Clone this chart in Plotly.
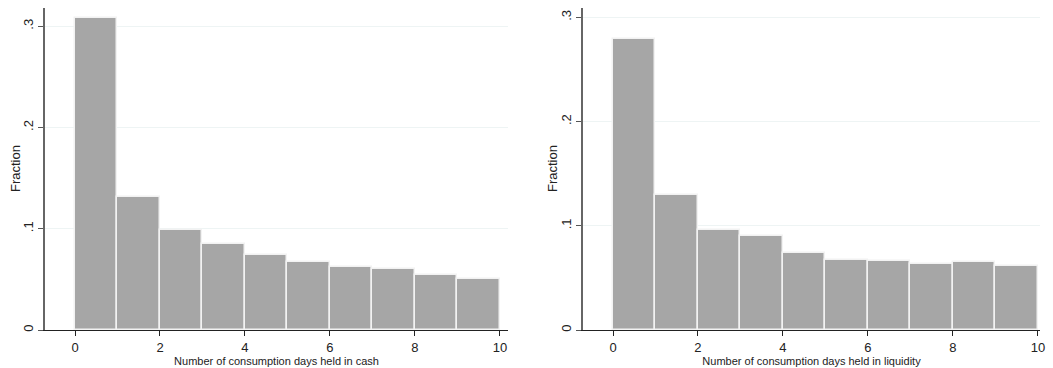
import plotly.graph_objects as go

bins_left = [0, 1, 2, 3, 4, 5, 6, 7, 8, 9]
frac_cash = [0.308, 0.1316, 0.0987, 0.0849, 0.0737, 0.0668, 0.0625, 0.0599, 0.0546, 0.0503]
bins_right = [0, 1, 2, 3, 4, 5, 6, 7, 8, 9]
frac_liquidity = [0.2797, 0.1294, 0.0959, 0.0901, 0.0741, 0.0671, 0.0665, 0.0630, 0.0649, 0.0614]
x_ticks = [0, 2, 4, 6, 8, 10]
y_ticks = [0, 0.1, 0.2, 0.3]
y_tick_text = ["0", ".1", ".2", ".3"]
xtitle_left = "Number of consumption days held in cash"
xtitle_right = "Number of consumption days held in liquidity"
ytitle = "Fraction"

W, H = 1053, 368
FONT = "Liberation Sans, Arial, sans-serif"
BAR = "#a6a6a6"

fig = go.Figure()
fig.add_trace(go.Bar(x=[b + 0.5 for b in bins_left], y=frac_cash, width=1,
                     marker=dict(color=BAR, line=dict(color="#f2f2f2", width=1.5)),
                     xaxis="x", yaxis="y", showlegend=False, hoverinfo="skip"))
fig.add_trace(go.Bar(x=[b + 0.5 for b in bins_right], y=frac_liquidity, width=1,
                     marker=dict(color=BAR, line=dict(color="#f2f2f2", width=1.5)),
                     xaxis="x2", yaxis="y2", showlegend=False, hoverinfo="skip"))

def xax(domain, rng, title):
    return dict(domain=domain, range=rng, tickvals=x_ticks, ticks="outside", ticklen=5,
                tickcolor="#222", showline=True, linecolor="#222", linewidth=1.3,
                showgrid=False, zeroline=False,
                tickfont=dict(family=FONT, size=13, color="#222"),
                title=dict(text=title, font=dict(family=FONT, size=11, color="#222"), standoff=0))

def yax(domain, rng, anchor):
    return dict(domain=domain, range=rng, anchor=anchor, tickvals=y_ticks, ticktext=y_tick_text,
                ticks="outside", ticklen=5, tickcolor="#555", tickangle=-90,
                ticklabelstandoff=0,
                showline=True, linecolor="#666", linewidth=1.5,
                showgrid=True, gridcolor="#eef4f4", gridwidth=1, zeroline=False,
                tickfont=dict(family=FONT, size=13, color="#222"))

fig.update_layout(
    width=W, height=H,
    margin=dict(l=0, r=0, t=8, b=38, autoexpand=False),
    plot_bgcolor="white", paper_bgcolor="white",
    bargap=0,
    xaxis=dict(**xax([45 / W, 508 / W], [-0.706, 10.19], xtitle_left), anchor="y"),
    yaxis=yax([0, 1], [0, 0.318], "x"),
    xaxis2=dict(**xax([583 / W, 1040 / W], [-0.706, 10.05], xtitle_right), anchor="y2"),
    yaxis2=yax([0, 1], [0, 0.309], "x2"),
)

for xpx in (15, 552):
    fig.add_annotation(text=ytitle, textangle=-90, xref="paper", yref="paper",
                       x=xpx / W, y=0.5, xanchor="center", yanchor="middle", showarrow=False,
                       font=dict(family=FONT, size=13, color="#222"))

fig.write_html("out.html", config={"displayModeBar": False},
               post_script="document.body.style.margin='0';document.body.style.overflow='hidden';")
